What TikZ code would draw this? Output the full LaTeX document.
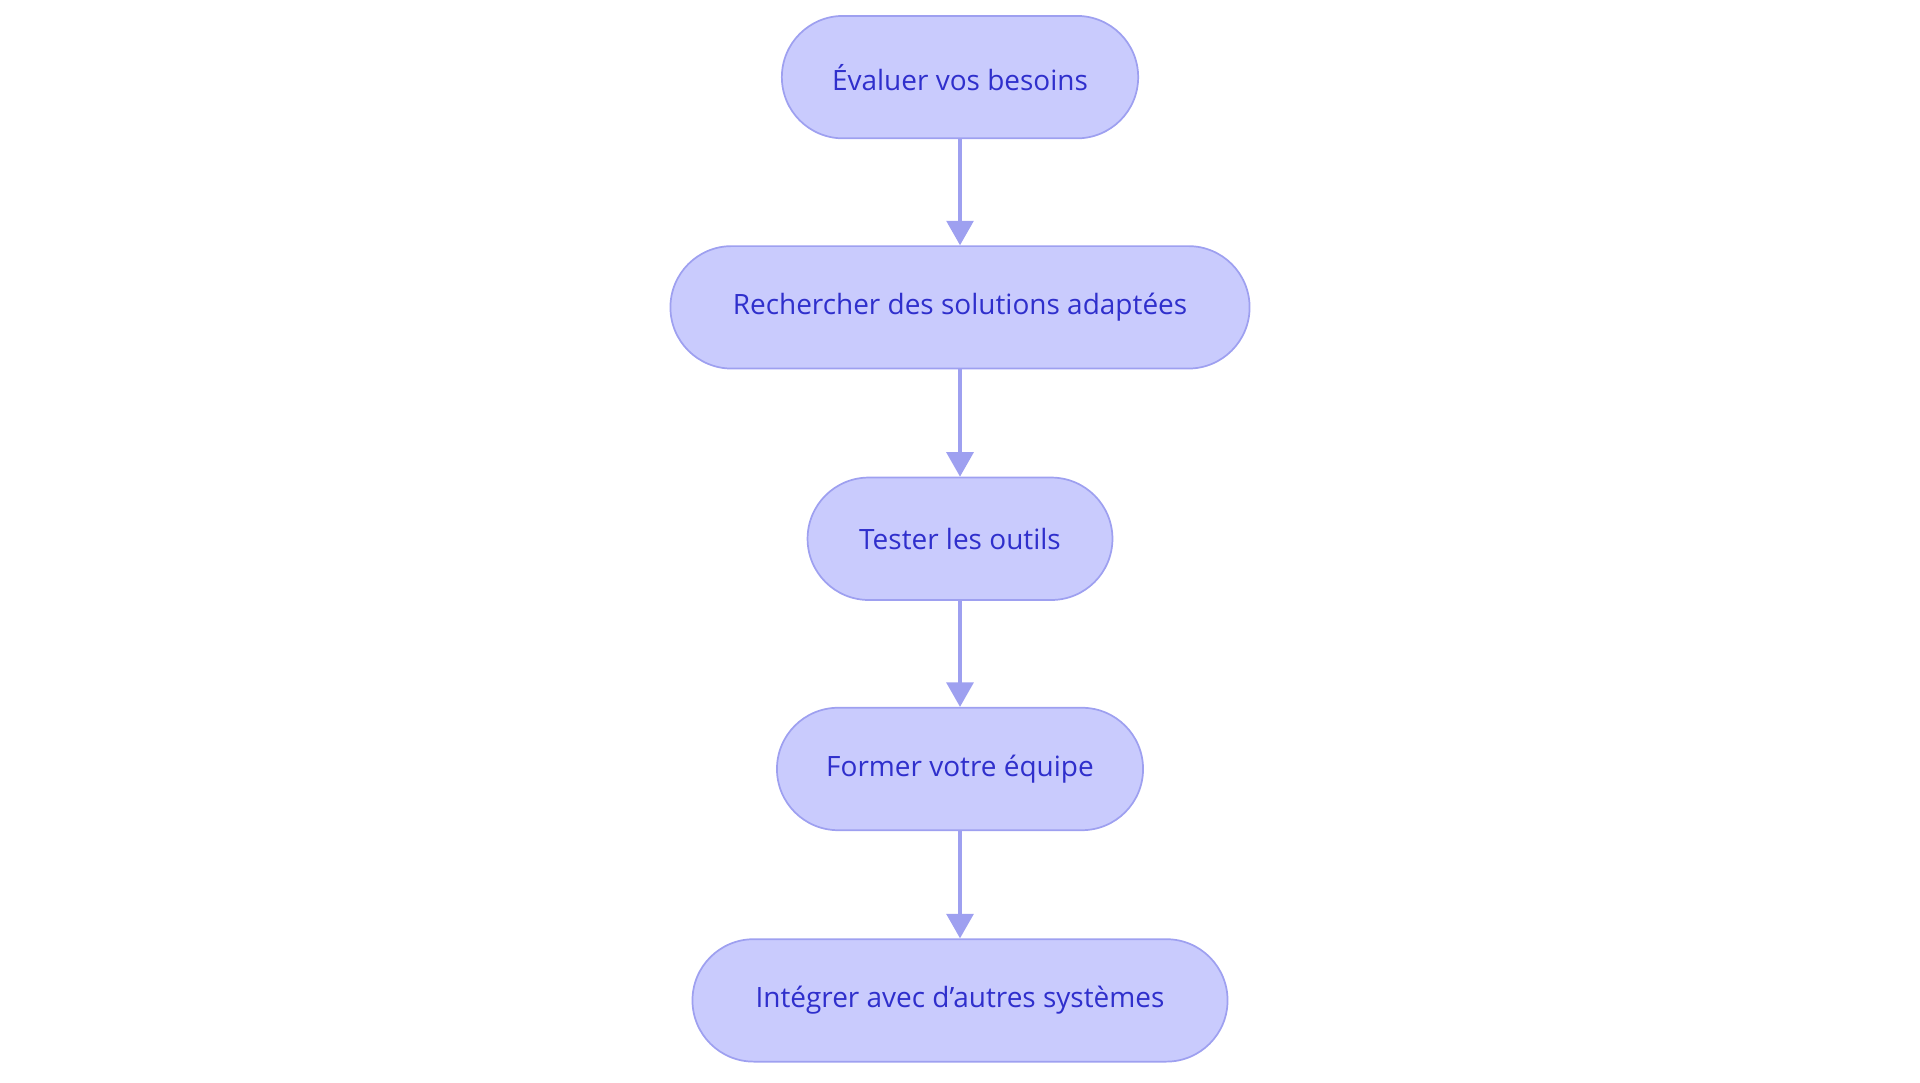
\documentclass[tikz,border=0pt]{standalone}
\usepackage{fontspec}
\setmainfont{Open Sans}
\usetikzlibrary{arrows.meta,positioning}
\definecolor{boxfill}{HTML}{C9CBFD}
\definecolor{boxline}{HTML}{9EA0F0}
\definecolor{boxtext}{HTML}{2F2FCC}
\tikzset{stage/.style={rectangle, rounded corners=1cm, draw=boxline, fill=boxfill, line width=0.8pt,
    text=boxtext, font=\fontsize{13}{15}\selectfont, minimum height=2cm, align=center},
  arrow/.style={draw=boxline, line width=1.5pt, -{Triangle[length=0.4cm,width=0.44cm]}}}
\begin{document}
\begin{tikzpicture}
  \useasboundingbox (0,0) rectangle (31.36,-17.68);
  % Place nodes
  \node [stage, minimum width=5.82cm] (evaluer) at (15.68,-1.26) {Évaluer vos besoins};
  \node [stage, minimum width=9.46cm] (rechercher) at (15.68,-5.02) {Rechercher des solutions adaptées};
  \node [stage, minimum width=4.98cm] (tester) at (15.68,-8.80) {Tester les outils};
  \node [stage, minimum width=5.98cm] (former) at (15.68,-12.56) {Former votre équipe};
  \node [stage, minimum width=8.74cm] (integrer) at (15.68,-16.34) {Intégrer avec d'autres systèmes};
  % Connect
  \path [arrow] (evaluer) -- (rechercher);
  \path [arrow] (rechercher) -- (tester);
  \path [arrow] (tester) -- (former);
  \path [arrow] (former) -- (integrer);
\end{tikzpicture}
\end{document}
